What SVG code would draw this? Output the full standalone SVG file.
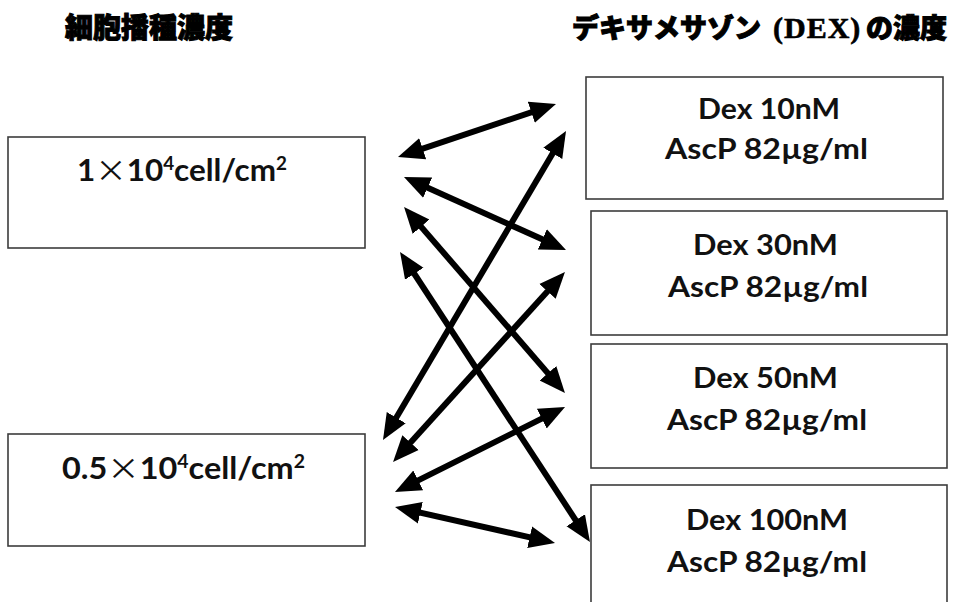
<svg xmlns="http://www.w3.org/2000/svg" width="958" height="602" viewBox="0 0 958 602">
<style>
.box{fill:#fff;stroke:#3c3c3c;stroke-width:1.6}
.lbl{font-family:Lato,"Open Sans","Noto Sans",sans-serif;font-weight:700;fill:#111}
.x{font-family:"Noto Sans CJK JP","Noto Sans CJK SC",sans-serif;font-weight:400}
.ttl{font-family:"Noto Sans CJK JP","Noto Sans CJK SC",sans-serif;font-weight:900;fill:#000;stroke:#000;stroke-width:1}
.ser{font-family:"Liberation Serif",serif;font-weight:700;stroke-width:0.6}
.arr{stroke:#000;stroke-width:6;fill:none;marker-start:url(#ah);marker-end:url(#ah)}
</style>
<defs>
<marker id="ah" markerUnits="userSpaceOnUse" markerWidth="26" markerHeight="24" refX="14" refY="11" orient="auto-start-reverse" viewBox="0 0 26 22">
<path d="M0,0 L26,11 L0,22 z" fill="#000"/>
</marker>
</defs>
<g id="title-left"><text class="ttl" x="65" y="38" font-size="28">細胞播種濃度</text></g>
<g id="title-right">
<text class="ttl" x="572" y="38" font-size="27">デキサメサゾン<tspan class="ser" x="773" font-size="30" letter-spacing="1">(DEX)</tspan><tspan x="866" font-size="27">の濃度</tspan></text>
</g>
<g id="seed1"><rect class="box" x="8" y="137" width="357" height="111"/>
<text class="lbl" x="77" y="181" font-size="30" textLength="210" lengthAdjust="spacingAndGlyphs">1<tspan class="x" font-size="30">×</tspan>10<tspan font-size="18" dy="-11">4</tspan><tspan dy="11">cell/cm</tspan><tspan font-size="18" dy="-11">2</tspan></text></g>
<g id="seed2"><rect class="box" x="8" y="434" width="357" height="112"/>
<text class="lbl" x="62" y="479" font-size="30" textLength="243" lengthAdjust="spacingAndGlyphs">0.5<tspan class="x" font-size="30">×</tspan>10<tspan font-size="18" dy="-11">4</tspan><tspan dy="11">cell/cm</tspan><tspan font-size="18" dy="-11">2</tspan></text></g>
<g id="dex10"><rect class="box" x="586" y="77" width="357" height="122"/>
<text class="lbl" x="698" y="119" font-size="28" textLength="142" lengthAdjust="spacingAndGlyphs">Dex 10nM</text>
<text class="lbl" x="665" y="159" font-size="28" textLength="203" lengthAdjust="spacingAndGlyphs">AscP 82µg/ml</text></g>
<g id="dex30"><rect class="box" x="591" y="211" width="356" height="124"/>
<text class="lbl" x="693" y="255" font-size="28" textLength="145" lengthAdjust="spacingAndGlyphs">Dex 30nM</text>
<text class="lbl" x="668" y="297" font-size="28" textLength="200" lengthAdjust="spacingAndGlyphs">AscP 82µg/ml</text></g>
<g id="dex50"><rect class="box" x="591" y="344" width="356" height="124"/>
<text class="lbl" x="693" y="388" font-size="28" textLength="145" lengthAdjust="spacingAndGlyphs">Dex 50nM</text>
<text class="lbl" x="667" y="430" font-size="28" textLength="200" lengthAdjust="spacingAndGlyphs">AscP 82µg/ml</text></g>
<g id="dex100"><rect class="box" x="591" y="485" width="356" height="130"/>
<text class="lbl" x="686" y="530" font-size="28" textLength="162" lengthAdjust="spacingAndGlyphs">Dex 100nM</text>
<text class="lbl" x="667" y="572" font-size="28" textLength="200" lengthAdjust="spacingAndGlyphs">AscP 82µg/ml</text></g>
<g id="connectors">
<line class="arr" x1="409.4" y1="153.2" x2="544.6" y2="107.8"/>
<line class="arr" x1="414.9" y1="181.9" x2="555.1" y2="245.1"/>
<line class="arr" x1="559.9" y1="141.3" x2="389.1" y2="429.7"/>
<line class="arr" x1="411.9" y1="216.1" x2="557.1" y2="383.9"/>
<line class="arr" x1="406.6" y1="262" x2="583.4" y2="532"/>
<line class="arr" x1="556.9" y1="280.9" x2="401.1" y2="453.1"/>
<line class="arr" x1="554.3" y1="412.4" x2="405.7" y2="486.6"/>
<line class="arr" x1="406.7" y1="509.6" x2="543.3" y2="540.4"/>
</g>
</svg>
